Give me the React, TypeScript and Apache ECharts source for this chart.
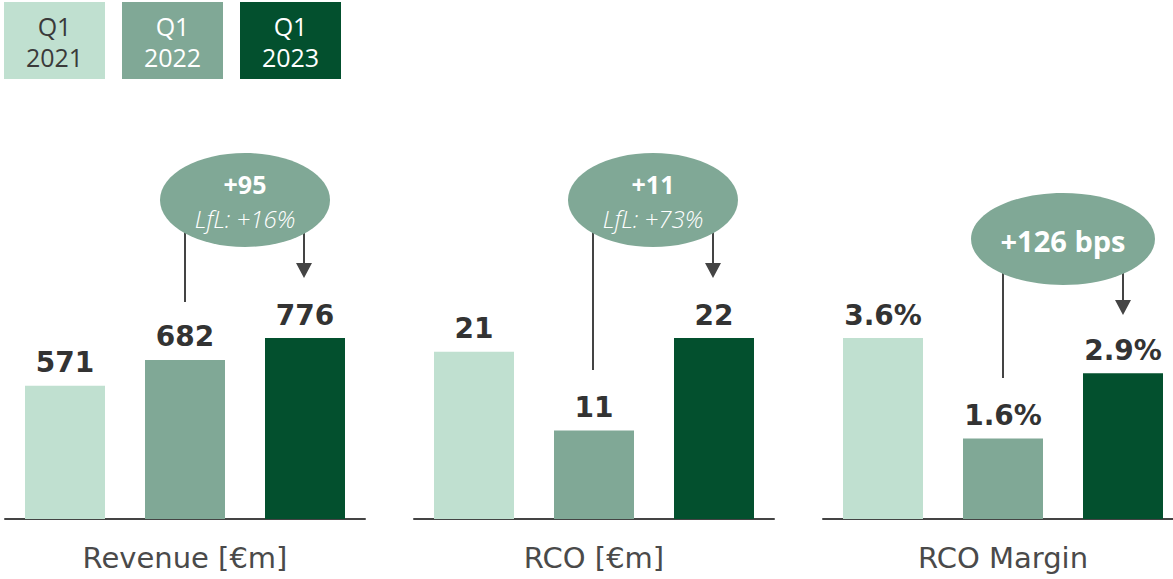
import React, { useEffect, useRef } from "react";
import * as echarts from "echarts";

const periods = ["Q1 2021", "Q1 2022", "Q1 2023"];
const revenue = [571, 682, 776];
const rco = [20.6, 10.9, 22.3];
const rcoMargin = [3.6, 1.6, 2.9];
const panelTitles = ["Revenue [€m]", "RCO [€m]", "RCO Margin"];
const colors = ["#c0e0d0", "#80a896", "#03502e"];
const legendTextColors = ["#3a3a3a", "#ffffff", "#ffffff"];

const FONT = "'Open Sans', 'Noto Sans', sans-serif";
const TITLE_FONT = "'DejaVu Sans', sans-serif";
const BOLD_FONT = "'DejaVu Sans', sans-serif";

export default function App() {
  const ref = useRef<HTMLDivElement>(null);
  useEffect(() => {
    if (!ref.current) return;
    const chart = echarts.init(ref.current, undefined, { renderer: "svg" });
    const panels = [
      { data: revenue, fmt: (v: number) => String(Math.round(v)) },
      { data: rco, fmt: (v: number) => String(Math.round(v)) },
      { data: rcoMargin, fmt: (v: number) => v.toFixed(1) + "%" },
    ];
    const lefts = [5, 414, 823];
    const grids = lefts.map((l) => ({
      left: l,
      width: 360,
      top: 338,
      bottom: 60,
      containLabel: false,
      outerBoundsMode: "none",
    }));
    const xAxes = panels.map((_, i) => ({
      type: "category",
      gridIndex: i,
      data: periods,
      axisLine: { show: true, lineStyle: { color: "#444444", width: 2 } },
      axisTick: { show: false },
      axisLabel: { show: false },
      name: panelTitles[i],
      nameLocation: "middle",
      nameGap: 24,
      nameTextStyle: { fontFamily: TITLE_FONT, fontSize: 29, fontWeight: 400, color: "#4a4a4a" },
    }));
    const yAxes = panels.map((p, i) => ({
      type: "value",
      gridIndex: i,
      min: 0,
      max: Math.max(...p.data),
      show: false,
      splitLine: { show: false },
    }));
    const series = panels.map((p, i) => ({
      type: "bar",
      xAxisIndex: i,
      yAxisIndex: i,
      barWidth: 80,
      data: p.data.map((v, j) => ({ value: v, itemStyle: { color: colors[j] } })),
      label: {
        show: true,
        position: "top",
        distance: 9,
        formatter: (q: any) => p.fmt(q.value),
        fontFamily: BOLD_FONT,
        fontWeight: "bold",
        fontSize: 28,
        color: "#333333",
      },
    }));

    const legendEls: any[] = [];
    periods.forEach((pname, i) => {
      const x = 4 + i * 118;
      const [q, y] = pname.split(" ");
      legendEls.push({
        type: "rect",
        shape: { x, y: 2, width: 101, height: 77 },
        style: { fill: colors[i] },
      });
      legendEls.push({
        type: "text",
        x: x + 50.5,
        y: 41,
        style: {
          text: q + "\n" + y,
          fill: legendTextColors[i],
          font: `400 25px ${FONT}`,
          lineHeight: 31,
          align: "center",
          verticalAlign: "middle",
        },
      });
    });

    const lineStyle = { stroke: "#444444", lineWidth: 2 };
    const bubble = (cx: number, cy: number, rx: number, ry: number) => ({
      type: "ellipse",
      shape: { cx, cy, rx, ry },
      style: { fill: colors[1] },
    });
    const vline = (x: number, y1: number, y2: number) => ({
      type: "line",
      shape: { x1: x, y1, x2: x, y2 },
      style: lineStyle,
    });
    const arrowHead = (x: number, tip: number) => ({
      type: "polygon",
      shape: { points: [[x - 8, tip - 15], [x + 8, tip - 15], [x, tip]] },
      style: { fill: "#444444" },
    });
    const bubbleText = (x: number, y: number, main: string, sub: string) => ({
      type: "text",
      x,
      y,
      style: {
        text: `{a|${main}}\n{b|${sub}}`,
        align: "center",
        verticalAlign: "middle",
        rich: {
          a: { fill: "#ffffff", font: `bold 25px ${FONT}`, lineHeight: 34, align: "center" },
          b: { fill: "#ffffff", font: `italic 300 24px ${FONT}`, lineHeight: 34, align: "center" },
        },
      },
    });
    const txt = (x: number, y: number, text: string, font: string) => ({
      type: "text",
      x,
      y,
      style: { text, fill: "#ffffff", font, align: "center", verticalAlign: "middle" },
    });

    const annotations: any[] = [
      vline(185, 225, 302),
      vline(304, 225, 264),
      arrowHead(304, 278),
      bubble(245, 200, 85, 47),
      bubbleText(245, 201, "+95", "LfL: +16%"),

      vline(593, 225, 370),
      vline(713, 225, 264),
      arrowHead(713, 278),
      bubble(653, 200, 85, 47),
      bubbleText(653, 201, "+11", "LfL: +73%"),

      vline(1003, 265, 378),
      vline(1123, 265, 301),
      arrowHead(1123, 315),
      bubble(1063, 239, 92, 46),
      txt(1063, 240, "+126 bps", `bold 29px ${FONT}`),
    ];

    chart.setOption({
      animation: false,
      grid: grids,
      xAxis: xAxes,
      yAxis: yAxes,
      series,
      graphic: [...legendEls, ...annotations],
    });
    return () => chart.dispose();
  }, []);
  return (
    <div
      ref={ref}
      style={{ position: "fixed", left: 0, top: 0, width: 1173, height: 579, background: "#ffffff" }}
    />
  );
}
